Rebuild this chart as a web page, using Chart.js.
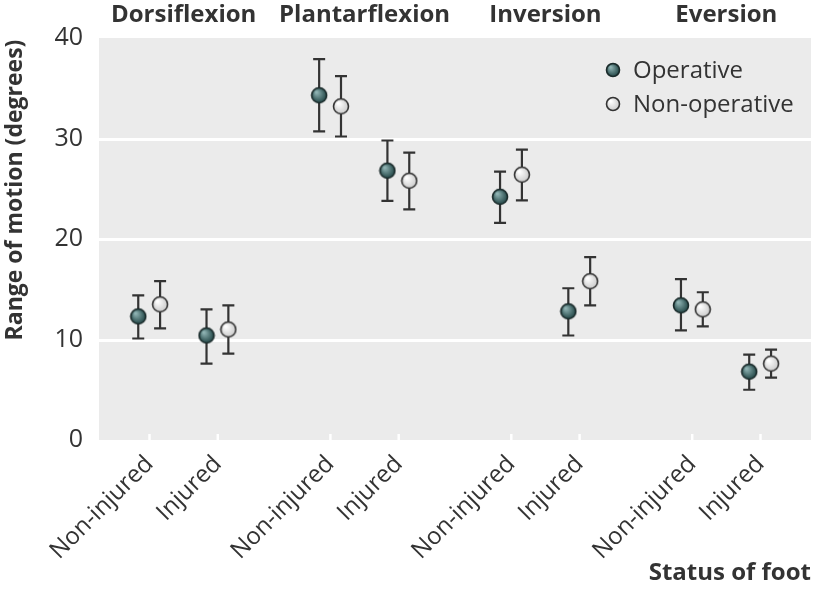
<!DOCTYPE html>
<html>
<head>
<meta charset="utf-8">
<script src="https://cdn.jsdelivr.net/npm/chart.js@4.4.0/dist/chart.umd.min.js"></script>
<style>
  body { margin: 0; background: #fff; }
  #wrap { width: 820px; height: 592px; }
</style>
</head>
<body>
<div id="wrap"><canvas id="canvas" width="820" height="592"></canvas></div>
<script>
// groups and foot status
var groupNames = ['Dorsiflexion', 'Plantarflexion', 'Inversion', 'Eversion'];
var footStatus = ['Non-injured', 'Injured', 'Non-injured', 'Injured', 'Non-injured', 'Injured', 'Non-injured', 'Injured'];
var catPos = [0, 1, 2.65, 3.65, 5.3, 6.3, 7.95, 8.95];
var yTicks = [0, 10, 20, 30, 40];

// operative
var opMean = [12.3, 10.4, 34.3, 26.8, 24.2, 12.8, 13.4, 6.8];
var opLow = [10.1, 7.6, 30.7, 23.8, 21.6, 10.4, 10.9, 5.0];
var opHigh = [14.4, 13.0, 37.9, 29.8, 26.7, 15.1, 16.0, 8.5];

// non-operative
var nonMean = [13.5, 11.0, 33.2, 25.8, 26.4, 15.8, 13.0, 7.6];
var nonLow = [11.1, 8.6, 30.2, 22.95, 23.85, 13.4, 11.3, 6.2];
var nonHigh = [15.8, 13.4, 36.2, 28.6, 28.9, 18.2, 14.7, 9.0];

var opShift = -0.165, nonShift = 0.155;
var ink = '#333333';
var font = "'Open Sans', 'DejaVu Sans', sans-serif";

// little shaded balls used as point style
function makeBall(r, light, dark, edge) {
    var c = document.createElement('canvas');
    var s = r * 2 + 2;
    c.width = s; c.height = s;
    var g = c.getContext('2d');
    var gr = g.createRadialGradient(s / 2 - r * 0.35, s / 2 - r * 0.4, r * 0.1, s / 2, s / 2, r);
    gr.addColorStop(0, light);
    gr.addColorStop(1, dark);
    g.beginPath();
    g.arc(s / 2, s / 2, r - 0.5, 0, Math.PI * 2);
    g.fillStyle = gr;
    g.fill();
    g.lineWidth = 1.6;
    g.strokeStyle = edge;
    g.stroke();
    return c;
}
var opBall = makeBall(8, '#8fb3b3', '#1d4141', '#1a2a2a');
var nonBall = makeBall(8, '#ffffff', '#c9c9c9', '#333333');
var opBallSmall = makeBall(7, '#8fb3b3', '#1d4141', '#1a2a2a');
var nonBallSmall = makeBall(7, '#ffffff', '#c9c9c9', '#333333');

function pts(mean, shift) {
    var out = [];
    for (var i = 0; i < mean.length; i++) out.push({x: catPos[i] + shift, y: mean[i]});
    return out;
}

var backdrop = {
    id: 'backdrop',
    beforeDraw: function (chart) {
        var a = chart.chartArea, c = chart.ctx, y = chart.scales.y, x = chart.scales.x;
        c.save();
        c.fillStyle = '#ebebeb';
        c.fillRect(a.left, a.top, a.right - a.left, a.bottom - a.top);
        c.strokeStyle = '#ffffff';
        c.lineWidth = 3;
        [10, 20, 30].forEach(function (v) {
            var py = Math.round(y.getPixelForValue(v)) + 0.5;
            c.beginPath(); c.moveTo(a.left, py); c.lineTo(a.right, py); c.stroke();
        });
        c.lineWidth = 2.5;
        catPos.forEach(function (v) {
            var px = x.getPixelForValue(v);
            c.beginPath(); c.moveTo(px, a.bottom - 6); c.lineTo(px, a.bottom); c.stroke();
        });
        c.restore();
    }
};

var errorBars = {
    id: 'errorBars',
    beforeDatasetsDraw: function (chart) {
        var c = chart.ctx, x = chart.scales.x, y = chart.scales.y;
        c.save();
        c.strokeStyle = ink;
        c.lineWidth = 2.2;
        function bar(pos, lo, hi) {
            var px = x.getPixelForValue(pos), y1 = y.getPixelForValue(lo), y2 = y.getPixelForValue(hi);
            c.beginPath();
            c.moveTo(px, y1); c.lineTo(px, y2);
            c.moveTo(px - 6, y1); c.lineTo(px + 6, y1);
            c.moveTo(px - 6, y2); c.lineTo(px + 6, y2);
            c.stroke();
        }
        for (var i = 0; i < catPos.length; i++) {
            bar(catPos[i] + opShift, opLow[i], opHigh[i]);
            bar(catPos[i] + nonShift, nonLow[i], nonHigh[i]);
        }
        c.restore();
    }
};

var headings = {
    id: 'headings',
    afterDraw: function (chart) {
        var c = chart.ctx, x = chart.scales.x;
        c.save();
        c.fillStyle = ink;
        c.font = 'bold 24px ' + font;
        c.textAlign = 'center';
        c.textBaseline = 'middle';
        for (var g = 0; g < groupNames.length; g++) {
            var mid = (catPos[g * 2] + catPos[g * 2 + 1]) / 2;
            c.fillText(groupNames[g], x.getPixelForValue(mid), 15);
        }
        // y axis title
        c.save();
        c.translate(15, 190);
        c.rotate(-Math.PI / 2);
        c.font = 'bold 23px ' + font;
        c.fillText('Range of motion (degrees)', 0, 0);
        c.restore();
        // legend
        c.font = '24px ' + font;
        c.textAlign = 'left';
        c.drawImage(opBallSmall, 605, 62);
        c.fillText('Operative', 633, 71);
        c.drawImage(nonBallSmall, 605, 96);
        c.fillText('Non-operative', 633, 105);
        c.restore();
    }
};

var ctx = document.getElementById('canvas').getContext('2d');
var chart = new Chart(ctx, {
    type: 'scatter',
    data: {
        datasets: [
            { label: 'Operative', data: pts(opMean, opShift), pointStyle: opBall, pointRadius: 8, pointHoverRadius: 8 },
            { label: 'Non-operative', data: pts(nonMean, nonShift), pointStyle: nonBall, pointRadius: 8, pointHoverRadius: 8 }
        ]
    },
    options: {
        responsive: false,
        animation: false,
        layout: { padding: { top: 38, right: 2, left: 0, bottom: 4 } },
        plugins: {
            legend: { display: false },
            tooltip: { enabled: false }
        },
        scales: {
            x: {
                type: 'linear',
                min: -0.74,
                max: 9.69,
                grid: { display: false },
                border: { display: false },
                afterBuildTicks: function (s) {
                    s.ticks = catPos.map(function (v) { return {value: v}; });
                },
                afterFit: function (s) { s.height = 148; },
                ticks: {
                    autoSkip: false,
                    minRotation: 45,
                    maxRotation: 45,
                    padding: 2,
                    color: ink,
                    font: { family: font, size: 24 },
                    callback: function (v) {
                        var i = catPos.indexOf(v);
                        return i >= 0 ? footStatus[i] : '';
                    }
                },
                title: {
                    display: true,
                    align: 'end',
                    text: 'Status of foot',
                    color: ink,
                    font: { family: font, size: 24, weight: 'bold' },
                    padding: { top: 0, bottom: 0 }
                }
            },
            y: {
                min: 0,
                max: 40,
                grid: { display: false },
                border: { display: false },
                afterBuildTicks: function (s) {
                    s.ticks = yTicks.map(function (v) { return {value: v}; });
                },
                afterFit: function (s) { s.width = 99; },
                ticks: {
                    padding: 8,
                    color: ink,
                    font: { family: font, size: 25 }
                }
            }
        }
    },
    plugins: [backdrop, errorBars, headings]
});
</script>
</body>
</html>
